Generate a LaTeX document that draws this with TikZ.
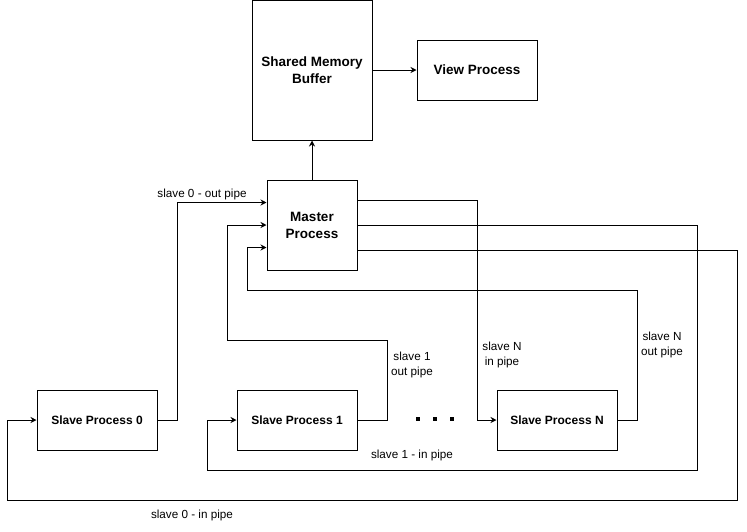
\documentclass[tikz,border=0pt]{standalone}
\usepackage{fontspec}
\setmainfont{Liberation Sans}
\usetikzlibrary{calc,arrows.meta}
\begin{document}
\begin{tikzpicture}[x=1pt,y=-1pt,
  box/.style={draw,line width=1pt,minimum width=120pt,minimum height=60pt,inner sep=0pt,align=center,font=\fontsize{12}{14.4}\selectfont\bfseries},
  bigbox/.style={box,font=\fontsize{13.5}{17}\selectfont\bfseries},
  lbl/.style={align=center,inner sep=0pt,font=\fontsize{11.7}{14.7}\selectfont},
  arr/.style={line width=1pt,-{Stealth[length=6pt,width=6pt,inset=2pt]}},
  dotsq/.style={fill=black,minimum size=3.5pt,inner sep=0pt}]
\useasboundingbox (0,0) rectangle (747,531);
% boxes
\node[bigbox,minimum height=140pt] (smb) at (312,70) {Shared Memory\\Buffer};
\node[bigbox] (view) at (477,70) {View Process};
\node[bigbox,minimum width=90pt,minimum height=90pt] (master) at (312,225) {Master\\Process};
\node[box] (s0) at (97,420) {Slave Process 0};
\node[box] (s1) at (297,420) {Slave Process 1};
\node[box] (sN) at (557,420) {Slave Process N};
% anchor points on master
\coordinate (mL1) at ($(master.west)+(0,-22.5)$);
\coordinate (mL3) at ($(master.west)+(0,22.5)$);
\coordinate (mR1) at ($(master.east)+(0,-25)$);
\coordinate (mR3) at ($(master.east)+(0,25)$);
% connectors
\draw[arr] (smb.east) -- (view.west);
\draw[arr] (master.north) -- (smb.south);
\draw[arr] (s0.east) -- ++(20,0) |- (mL1);
\draw[arr] (s1.east) -- ++(30,0) -- ++(0,-80) -- ++(-160,0) |- (master.west);
\draw[arr] (sN.east) -- ++(20,0) -- ++(0,-130) -- ++(-390,0) |- (mL3);
\draw[arr] (mR1) -- ++(120,0) |- (sN.west);
\draw[arr] (master.east) -- ++(340,0) -- ++(0,245) -- ++(-490,0) |- (s1.west);
\draw[arr] (mR3) -- ++(380,0) -- ++(0,250) -- ++(-730,0) |- (s0.west);
% labels
\node[lbl] (l0out) at (202,194) {slave 0 - out pipe};
\node[lbl] (l1out) at (412,365) {slave 1\\out pipe};
\node[lbl] (lNin) at (502,355) {slave N\\in pipe};
\node[lbl] (lNout) at (662,345) {slave N\\out pipe};
\node[lbl] (l1in) at (412,455) {slave 1 - in pipe};
\node[lbl] (l0in) at (192,515) {slave 0 - in pipe};
% dots
\node[dotsq] (d1) at (418,419) {};
\node[dotsq] (d2) at (435,419) {};
\node[dotsq] (d3) at (452,419) {};
\end{tikzpicture}
\end{document}
